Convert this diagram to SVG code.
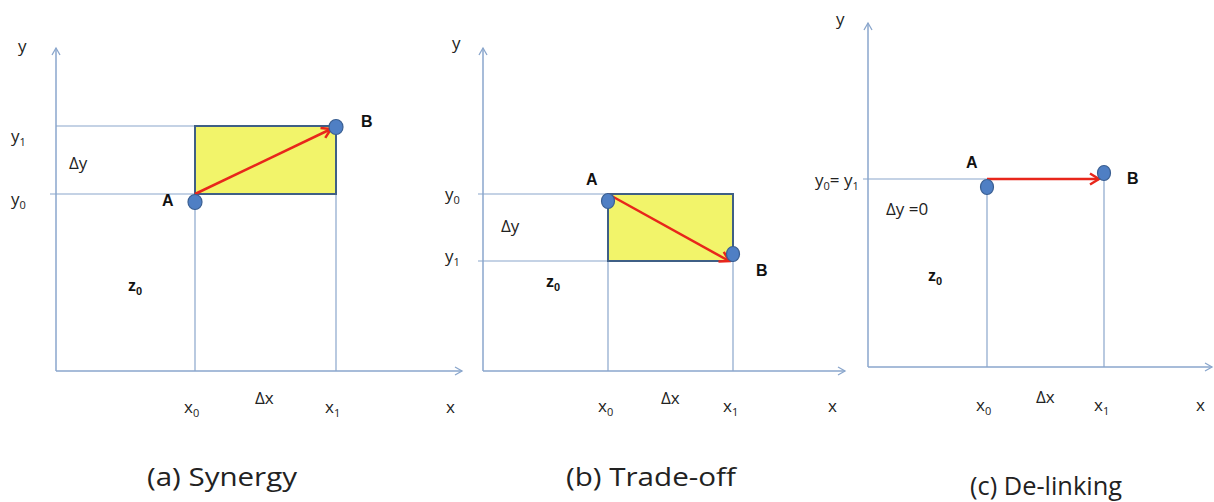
<svg xmlns="http://www.w3.org/2000/svg" width="1214" height="502" viewBox="0 0 1214 502">
<style>
.ax{stroke:#8aa6cc;stroke-width:1.5;fill:none}
.gl{stroke:#8aa6cc;stroke-width:1.2;fill:none}
.box{fill:#f2f46a;stroke:#3f5f85;stroke-width:2}
.pt{fill:#4f7fc4;stroke:#3a5f92;stroke-width:1.2}
.vec{stroke:#e8261b;stroke-width:2.5;fill:none}
.t{font-family:"Open Sans","Liberation Sans",sans-serif;font-size:17px;fill:#222}
.b{font-family:"Liberation Sans",sans-serif;font-size:16px;font-weight:bold;fill:#111}
.s{font-size:11px}
.cap{font-family:"Open Sans","Liberation Sans",sans-serif;font-size:25px;fill:#222}
</style>
<defs>
<marker id="axh" markerWidth="10" markerHeight="10" refX="8" refY="5" orient="auto" markerUnits="userSpaceOnUse">
<path d="M1,1 L8,5 L1,9" fill="none" stroke="#8aa6cc" stroke-width="1.3"/>
</marker>
<marker id="vh" markerWidth="14" markerHeight="14" refX="11" refY="7" orient="auto" markerUnits="userSpaceOnUse">
<path d="M2,1.5 L11,7 L2,12.5" fill="none" stroke="#e8261b" stroke-width="2.5"/>
</marker>
</defs>

<g id="connectors">
<!-- panel a -->
<line class="ax" x1="56" y1="371" x2="56" y2="48" marker-end="url(#axh)"/>
<line class="ax" x1="56" y1="371" x2="462" y2="371" marker-end="url(#axh)"/>
<line class="gl" x1="56" y1="126" x2="195" y2="126"/>
<line class="gl" x1="50" y1="194" x2="195" y2="194"/>
<line class="gl" x1="195" y1="194" x2="195" y2="371"/>
<line class="gl" x1="336" y1="194" x2="336" y2="371"/>
<!-- panel b -->
<line class="ax" x1="483" y1="371" x2="483" y2="48" marker-end="url(#axh)"/>
<line class="ax" x1="483" y1="371" x2="845" y2="371" marker-end="url(#axh)"/>
<line class="gl" x1="478" y1="194" x2="608" y2="194"/>
<line class="gl" x1="478" y1="261" x2="608" y2="261"/>
<line class="gl" x1="608" y1="261" x2="608" y2="371"/>
<line class="gl" x1="733" y1="261" x2="733" y2="371"/>
<!-- panel c -->
<line class="ax" x1="868" y1="367" x2="868" y2="23" marker-end="url(#axh)"/>
<line class="ax" x1="868" y1="367" x2="1212" y2="367" marker-end="url(#axh)"/>
<line class="gl" x1="863" y1="179" x2="987" y2="179"/>
<line class="gl" x1="987" y1="187" x2="987" y2="367"/>
<line class="gl" x1="1104" y1="173" x2="1104" y2="367"/>
</g>

<g id="panel-a">
<rect class="box" x="195" y="126" width="141" height="68"/>
<line class="vec" x1="195" y1="194" x2="331" y2="129" marker-end="url(#vh)"/>
<ellipse id="a-A" class="pt" cx="195" cy="202" rx="7" ry="7.5"/>
<ellipse id="a-B" class="pt" cx="336" cy="127" rx="7" ry="7.5"/>
<text class="t" x="18" y="52">y</text>
<text class="t" x="11" y="142">y<tspan class="s" dy="4">1</tspan></text>
<text class="t" x="69" y="169">Δy</text>
<text class="t" x="11" y="205">y<tspan class="s" dy="4">0</tspan></text>
<text class="b" x="162" y="206">A</text>
<text class="b" x="361" y="127">B</text>
<text class="b" x="128" y="291">z<tspan class="s" dy="4">0</tspan></text>
<text class="t" x="184" y="413">x<tspan class="s" dy="4">0</tspan></text>
<text class="t" x="255" y="404">Δx</text>
<text class="t" x="325" y="413">x<tspan class="s" dy="4">1</tspan></text>
<text class="t" x="446" y="413">x</text>
<text class="cap" x="147" y="486" textLength="150" lengthAdjust="spacingAndGlyphs">(a) Synergy</text>
</g>

<g id="panel-b">
<rect class="box" x="608" y="194" width="125" height="67"/>
<line class="vec" x1="608" y1="194" x2="729" y2="261" marker-end="url(#vh)"/>
<ellipse id="b-A" class="pt" cx="608" cy="201" rx="6.5" ry="7.5"/>
<ellipse id="b-B" class="pt" cx="733" cy="254" rx="6.5" ry="7.5"/>
<text class="t" x="452" y="49">y</text>
<text class="t" x="445" y="200">y<tspan class="s" dy="4">0</tspan></text>
<text class="t" x="501" y="232">Δy</text>
<text class="t" x="445" y="262">y<tspan class="s" dy="4">1</tspan></text>
<text class="b" x="586" y="185">A</text>
<text class="b" x="756" y="276">B</text>
<text class="b" x="546" y="287">z<tspan class="s" dy="4">0</tspan></text>
<text class="t" x="598" y="412">x<tspan class="s" dy="4">0</tspan></text>
<text class="t" x="661" y="404">Δx</text>
<text class="t" x="723" y="412">x<tspan class="s" dy="4">1</tspan></text>
<text class="t" x="828" y="412">x</text>
<text class="cap" x="566" y="486" textLength="170" lengthAdjust="spacingAndGlyphs">(b) Trade-off</text>
</g>

<g id="panel-c">
<line class="vec" x1="987" y1="179" x2="1099" y2="179" marker-end="url(#vh)"/>
<ellipse id="c-A" class="pt" cx="987" cy="187" rx="6.5" ry="7.5"/>
<ellipse id="c-B" class="pt" cx="1104" cy="173" rx="6.5" ry="7.5"/>
<text class="t" x="836" y="25">y</text>
<text class="t" x="815" y="186">y<tspan class="s" dy="4">0</tspan><tspan dy="-4">= y</tspan><tspan class="s" dy="4">1</tspan></text>
<text class="t" x="886" y="215">Δy =0</text>
<text class="b" x="966" y="168">A</text>
<text class="b" x="1127" y="184">B</text>
<text class="b" x="928" y="281">z<tspan class="s" dy="4">0</tspan></text>
<text class="t" x="976" y="411">x<tspan class="s" dy="4">0</tspan></text>
<text class="t" x="1036" y="403">Δx</text>
<text class="t" x="1094" y="411">x<tspan class="s" dy="4">1</tspan></text>
<text class="t" x="1196" y="411">x</text>
<text class="cap" x="970" y="495" textLength="152" lengthAdjust="spacingAndGlyphs">(c) De-linking</text>
</g>
</svg>
